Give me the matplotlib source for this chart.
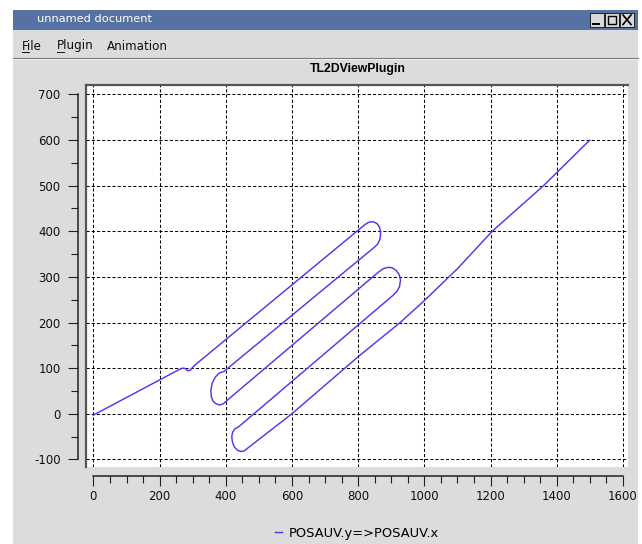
import matplotlib
matplotlib.use('Agg')
import matplotlib.pyplot as plt
from matplotlib.patches import Rectangle
from matplotlib.lines import Line2D

# ---------------- data ----------------
path_x = [0, 262, 270, 278, 285, 292, 298, 304,
          821, 832, 845, 857, 865, 868, 866, 859, 849,
          395, 380, 368, 359, 355, 356, 361, 370, 381, 393, 402,
          862, 876, 890, 903, 915, 924, 928, 925, 917, 906,
          440, 428, 421, 418, 420, 426, 435, 446, 457, 467,
          600, 800, 927, 1000, 1100, 1205, 1360, 1500]
path_y = [-3, 98, 100, 99, 94, 95, 100, 105,
          415, 420, 421, 417, 408, 396, 383, 372, 365,
          93, 89, 80, 67, 52, 38, 28, 22, 19, 22, 28,
          311, 318, 321, 320, 314, 305, 293, 279, 268, 260,
          -28, -33, -40, -50, -62, -73, -80, -83, -81, -75,
          0, 125, 200, 248, 318, 400, 500, 600]
series_label = "POSAUV.y=>POSAUV.x"
plot_title = "TL2DViewPlugin"
window_title = "unnamed document"
menu_items = ["File", "Plugin", "Animation"]
x_ticks = [0, 200, 400, 600, 800, 1000, 1200, 1400, 1600]
y_ticks = [-100, 0, 100, 200, 300, 400, 500, 600, 700]

plt.rcParams['font.family'] = ['DejaVu Sans']

W, H = 642, 544
fig = plt.figure(figsize=(W / 100, H / 100), dpi=100, facecolor='white')


def fx(px):
    return px / W


def fy(py):
    return 1 - py / H


def rect(x0, y0, x1, y1, **kw):
    r = Rectangle((fx(x0), fy(y1)), (x1 - x0) / W, (y1 - y0) / H,
                  transform=fig.transFigure, **kw)
    fig.patches.append(r)
    return r


def hline(x0, x1, y, **kw):
    fig.lines.append(Line2D([fx(x0), fx(x1)], [fy(y), fy(y)],
                            transform=fig.transFigure, **kw))


# window background (behind the axes)
rect(13, 10, 637.5, 544, facecolor='#dcdcdc', edgecolor='none', zorder=-5)
# title bar
rect(13, 10, 637.5, 29.5, facecolor='#5672a2', edgecolor='none', zorder=1)
fig.text(fx(37), fy(19.5), window_title, color='white', fontsize=8.2,
         ha='left', va='center')

# title-bar buttons
for i, bx in enumerate([590, 605, 620]):
    rect(bx, 12.5, bx + 14, 27, facecolor='#d8d8d8', edgecolor='#202020',
         linewidth=0.7, zorder=2)
    if i == 0:
        hline(bx + 3, bx + 9, 23.5, color='black', linewidth=1.4, zorder=3)
    elif i == 1:
        rect(bx + 3, 15.5, bx + 11, 24, facecolor='none', edgecolor='black',
             linewidth=1.0, zorder=3)
    else:
        fig.lines.append(Line2D([fx(bx + 3), fx(bx + 11)], [fy(15), fy(24.5)],
                                transform=fig.transFigure, color='black', linewidth=1.2, zorder=3))
        fig.lines.append(Line2D([fx(bx + 3), fx(bx + 11)], [fy(24.5), fy(15)],
                                transform=fig.transFigure, color='black', linewidth=1.2, zorder=3))

# menu bar
for name, mx in zip(menu_items, [22, 57, 107]):
    fig.text(fx(mx), fy(46), name, fontsize=8.6, ha='left', va='center', color='#111111')
hline(22, 28.5, 52, color='#111111', linewidth=0.7)
hline(57, 64, 52, color='#111111', linewidth=0.7)
# separator
hline(13, 637.5, 57.5, color='#7a7a7a', linewidth=0.8)
hline(13, 637.5, 58.5, color='#f4f4f4', linewidth=0.6)

# plot title
fig.text(fx(358), fy(69.5), plot_title, fontsize=8.8, fontweight='bold',
         family='Liberation Sans', ha='center', va='center', color='black')

# ---------------- axes ----------------
ax = fig.add_axes([fx(86), fy(466.7), (628 - 86) / W, (466.7 - 85) / H])
ax.set_facecolor('white')
ax.set_xlim(-22.4, 1615.4)
ax.set_ylim(-116.2, 720.8)

line_color = '#6030f0'
ax.plot(path_x, path_y, color=line_color, linewidth=1.05, label=series_label, zorder=3)

for s in ['top', 'right']:
    ax.spines[s].set_visible(False)
ax.spines['left'].set_position(('outward', 6))
ax.spines['left'].set_bounds(-100, 700)
ax.spines['bottom'].set_position(('outward', 7))
ax.spines['bottom'].set_bounds(0, 1600)
for s in ['left', 'bottom']:
    ax.spines[s].set_linewidth(1.1)
    ax.spines[s].set_color('#222222')

# sunken frame edges of the plot area
ax.plot([0, 0], [0, 1], transform=ax.transAxes, color='#555555', linewidth=1.6,
        clip_on=False, zorder=4)
ax.plot([0, 1], [1, 1], transform=ax.transAxes, color='#555555', linewidth=1.6,
        clip_on=False, zorder=4)

ax.set_xticks(x_ticks)
ax.set_xticks([v for v in range(0, 1601, 50)], minor=True)
ax.set_yticks(y_ticks)
ax.set_yticks([v for v in range(-100, 701, 50)], minor=True)
ax.set_xticklabels([str(v) for v in x_ticks])
ax.set_yticklabels([str(v) for v in y_ticks])

ax.tick_params(axis='both', which='major', direction='out', length=7.2, width=0.8,
               color='#222222', labelsize=8.5, labelcolor='#111111')
ax.tick_params(axis='both', which='minor', direction='out', length=4.8, width=0.8,
               color='#222222')
ax.tick_params(axis='y', which='major', pad=5.0)
ax.tick_params(axis='x', which='major', pad=2.8)

ax.grid(True, which='major', color='black', linestyle=(0, (3, 2)), linewidth=0.75)
ax.set_axisbelow(True)

# legend
fig.legend(loc='center', bbox_to_anchor=(fx(357), fy(533)), frameon=False,
           fontsize=9.4, handlelength=0.5, handletextpad=0.5, borderpad=0)

fig.savefig('out.png', dpi=100, facecolor='white')
